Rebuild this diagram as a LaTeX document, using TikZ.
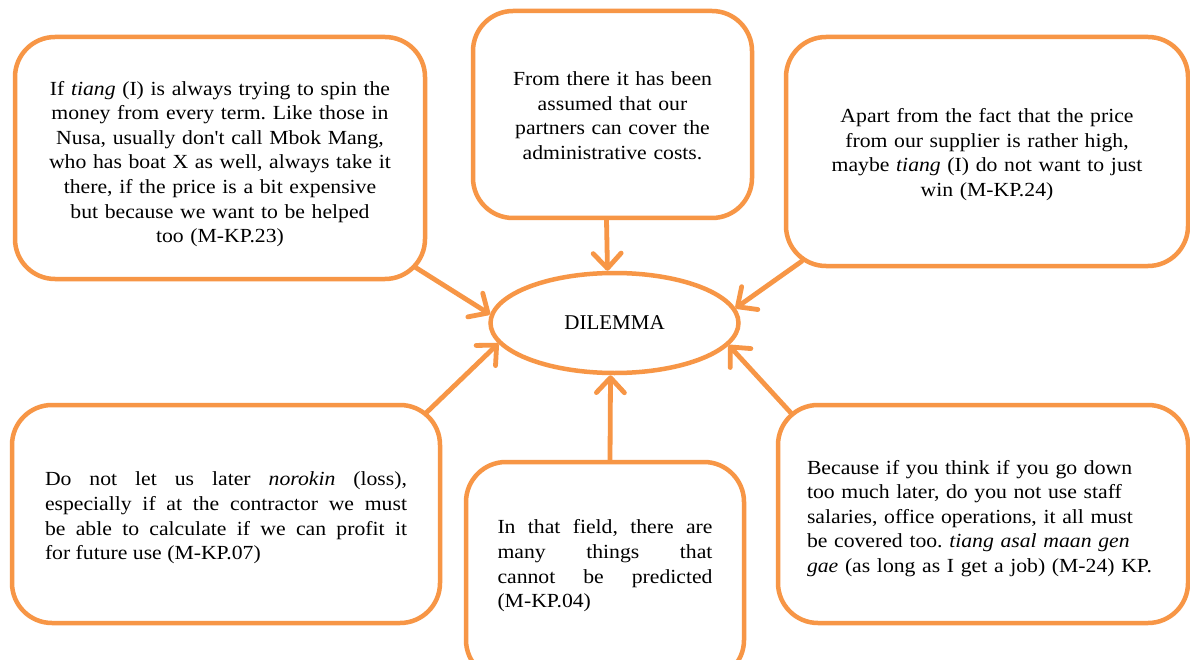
\documentclass[tikz,border=0pt]{standalone}
\usepackage{fontspec}
\setmainfont{Liberation Serif}
\newfontfamily\cam{Liberation Serif}[FakeStretch=1.085]
\usetikzlibrary{shapes.geometric,arrows.meta,calc}
\definecolor{orng}{HTML}{F79646}
\frenchspacing
\newcommand{\tp}[1]{\rule{0pt}{#1}}
\newcommand{\bt}[1]{\rule[-#1]{0pt}{0pt}}
\begin{document}
\begin{tikzpicture}[x=1pt,y=-1pt,
  box/.style={draw=orng, line width=4.5pt, rounded corners=40pt, fill=white,
    inner sep=0pt, font=\cam\fontsize{20}{24.6}\selectfont},
  conn/.style={draw=orng, line width=4.8pt, line cap=round,
    -{Straight Barb[length=15pt,width=28pt,line width=4.8pt,round]}}]
\useasboundingbox (0,0) rectangle (1190,660);
\clip (0,0) rectangle (1190,660);
\fill[white] (0,0) rectangle (1190,660);

\node[box, minimum width=410, minimum height=242, text width=385, align=center] (tl) at (220,158)
  {\tp{27.7pt}If \textit{tiang} (I) is always trying to spin the\\
   money from every term. Like those in\\
   Nusa, usually don't call Mbok Mang,\\
   who has boat X as well, always take it\\
   there, if the price is a bit expensive\\
   but because we want to be helped\\
   too (M-KP.23)\bt{6pt}};

\node[box, minimum width=279, minimum height=207, text width=265, align=center] (tc) at (612.5,114.5)
  {\tp{21.7pt}From there it has been\\
   assumed that our\\
   partners can cover the\\
   administrative costs.\bt{6pt}};

\node[box, minimum width=402, minimum height=229, text width=385, align=center] (tr) at (987,151.5)
  {\tp{21.7pt}Apart from the fact that the price\\
   from our supplier is rather high,\\
   maybe \textit{tiang} (I) do not want to just\\
   win (M-KP.24)\bt{6pt}};

\node[box, minimum width=428, minimum height=218, text width=362, align=justify] (bl) at (226,514)
  {\tp{23.7pt}Do not let us later \textit{norokin} (loss),\linebreak
   especially if at the contractor we must\linebreak
   be able to calculate if we can profit it\linebreak
   for future use (M-KP.07)\bt{6pt}};

\node[box, minimum width=278, minimum height=218, text width=215, align=justify] (bc) at (605,571)
  {\tp{14pt}In that field, there are\linebreak
   many things that\linebreak
   cannot be predicted\linebreak
   (M-KP.04)\bt{14.3pt}};

\node[box, minimum width=410, minimum height=218, text width=352, align=left] (br) at (983,514)
  {\tp{24.7pt}Because if you think if you go down\\
   too much later, do you not use staff\\
   salaries, office operations, it all must\\
   be covered too. \textit{tiang asal maan gen}\\
   \textit{gae} (as long as I get a job) (M-24) KP.\bt{6pt}};

\node[draw=orng, line width=4.5pt, ellipse, fill=white, minimum width=248, minimum height=100,
  inner sep=0pt, font=\fontsize{21}{24}\selectfont] (dil) at (614.5,323) {DILEMMA};

\draw[conn] ($(tl.south east)+(-12,-14)$) -- (dil.176);
\draw[conn] ($(tc.south)+(-6,0)$) -- ($(dil.north)+(-7,0)$);
\draw[conn] ($(tr.south west)+(18,-7)$) -- (dil.7);
\draw[conn] ($(bl.north east)+(-16,10)$) -- (dil.190);
\draw[conn] ($(bc.north)+(5,0)$) -- ($(dil.south)+(-4,0)$);
\draw[conn] ($(br.north west)+(15,10)$) -- (dil.349);
\end{tikzpicture}
\end{document}
